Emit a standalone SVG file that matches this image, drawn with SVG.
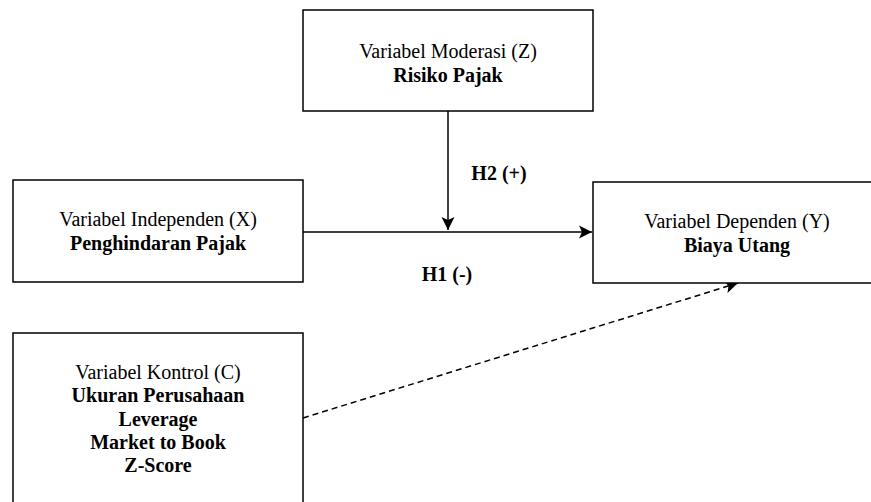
<svg xmlns="http://www.w3.org/2000/svg" width="871" height="502" viewBox="0 0 871 502">
<style>
.box{fill:#fff;stroke:#000;stroke-width:1.5}
.t{font-family:"Liberation Serif","Times New Roman",serif;font-size:20px;fill:#000;text-anchor:middle}
.b{font-weight:bold}
.edge{fill:none;stroke:#000;stroke-width:1.5}
.dash{stroke-dasharray:6 4}
</style>
<defs>
<marker id="arr" markerUnits="userSpaceOnUse" markerWidth="16" markerHeight="14" viewBox="-14 -7 16 14" refX="0" refY="0" orient="auto">
<path d="M0,0 L-13,-6.5 L-10,0 L-13,6.5 Z" fill="#000"/>
</marker>
</defs>
<rect width="871" height="502" fill="#fff"/>
<g id="connectors">
<path class="edge" d="M448,111 L448,230" marker-end="url(#arr)"/>
<path class="edge" d="M303,232 L592,232" marker-end="url(#arr)"/>
<path class="edge dash" d="M303,418 L738,283" marker-end="url(#arr)"/>
<text class="t b" x="499" y="180">H2 (+)</text>
<text class="t b" x="447" y="281">H1 (-)</text>
</g>
<g id="moderasi">
<rect class="box" x="303" y="10" width="290" height="101"/>
<text class="t" x="448" y="58">Variabel Moderasi (Z)</text>
<text class="t b" x="448" y="82">Risiko Pajak</text>
</g>
<g id="independen">
<rect class="box" x="13" y="180" width="290" height="102"/>
<text class="t" x="158" y="226">Variabel Independen (X)</text>
<text class="t b" x="158" y="250">Penghindaran Pajak</text>
</g>
<g id="dependen">
<rect class="box" x="593" y="182" width="290" height="101"/>
<text class="t" x="737" y="228">Variabel Dependen (Y)</text>
<text class="t b" x="737" y="252">Biaya Utang</text>
</g>
<g id="kontrol">
<rect class="box" x="13" y="333" width="290" height="180"/>
<text class="t" x="158" y="379">Variabel Kontrol (C)</text>
<text class="t b" x="158" y="402">Ukuran Perusahaan</text>
<text class="t b" x="158" y="426">Leverage</text>
<text class="t b" x="158" y="449">Market to Book</text>
<text class="t b" x="158" y="472">Z-Score</text>
</g>
</svg>
